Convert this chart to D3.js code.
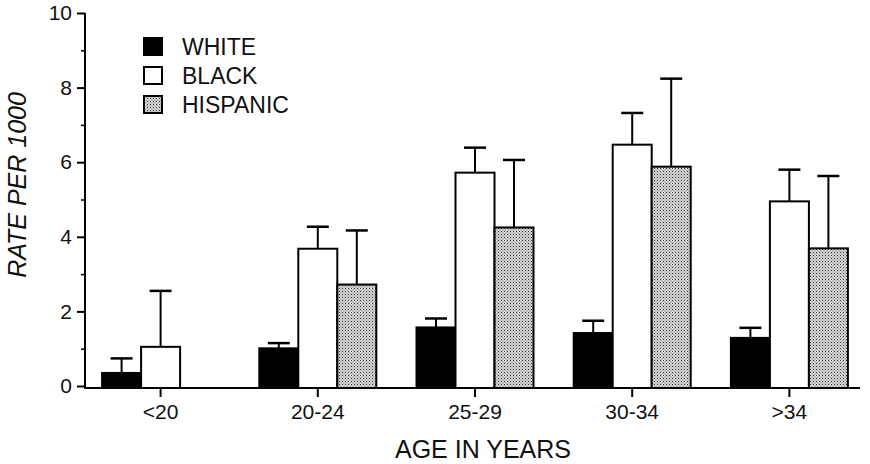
<!DOCTYPE html>
<html>
<head>
  <script src="https://d3js.org/d3.v7.min.js"></script>
  <style>
    body { margin: 0; background: #fff; font-family: "Liberation Sans", Arial, sans-serif; }
    text { fill: #111; }
  </style>
</head>
<body>
<div id="chart"></div>
<script>
  // data
  var ageGroups = ["<20", "20-24", "25-29", "30-34", ">34"];
  var seriesNames = ["WHITE", "BLACK", "HISPANIC"];
  var whiteRate = [0.35, 1.01, 1.57, 1.42, 1.29];
  var whiteUpper = [0.74, 1.15, 1.81, 1.75, 1.56];
  var blackRate = [1.05, 3.68, 5.72, 6.47, 4.95];
  var blackUpper = [2.55, 4.27, 6.39, 7.32, 5.80];
  var hispRate = [null, 2.72, 4.25, 5.88, 3.69];
  var hispUpper = [null, 4.17, 6.06, 8.24, 5.63];
  var yTicks = [0, 2, 4, 6, 8, 10];

  var width = 870, height = 464;
  var svg = d3.select("#chart").append("svg")
    .attr("width", width).attr("height", height);

  // stipple for hispanic
  var pat = svg.append("defs").append("pattern")
    .attr("id", "dots").attr("patternUnits", "userSpaceOnUse")
    .attr("width", 3).attr("height", 3);
  pat.append("rect").attr("width", 3).attr("height", 3).attr("fill", "#d6d6d6");
  pat.append("rect").attr("x", 0).attr("y", 0).attr("width", 1).attr("height", 1).attr("fill", "#333");
  pat.append("rect").attr("x", 1.5).attr("y", 1.5).attr("width", 1).attr("height", 1).attr("fill", "#777");

  var fills = ["#000", "#fff", "url(#dots)"];

  var y = d3.scaleLinear().domain([0, 10]).range([386, 13]);
  var x0 = d3.scaleBand().domain(ageGroups).range([82, 868]).padding(0);
  var x1 = d3.scaleBand().domain(seriesNames).range([0, 117]);
  var groupOffset = (x0.bandwidth() - 117) / 2;

  // y axis
  svg.append("g")
    .attr("transform", "translate(85,0)")
    .call(d3.axisLeft(y).tickValues(yTicks).tickSize(8).tickPadding(5).tickFormat(d3.format("d")))
    .call(function(g) {
      g.select(".domain").attr("stroke-width", 2).attr("d", "M0," + y(10) + "V" + (y(0) + 3));
      g.selectAll(".tick line").attr("stroke-width", 2);
      g.selectAll("text").attr("font-size", 21).attr("font-family", "Liberation Sans, Arial, sans-serif").attr("fill", "#111");
    });
  svg.append("g")
    .attr("transform", "translate(85,0)")
    .call(d3.axisLeft(y).tickValues([1, 3, 5, 7, 9]).tickSize(4).tickFormat(""))
    .call(function(g) {
      g.select(".domain").remove();
      g.selectAll(".tick line").attr("stroke-width", 1.5);
    });

  // x axis
  svg.append("g")
    .attr("transform", "translate(0," + (y(0) + 2) + ")")
    .call(d3.axisBottom(x0).tickSize(9).tickPadding(7))
    .call(function(g) {
      g.select(".domain").attr("stroke-width", 2).attr("d", "M85,0H860");
      g.selectAll(".tick line").attr("stroke-width", 2);
      g.selectAll("text").attr("font-size", 21).attr("font-family", "Liberation Sans, Arial, sans-serif").attr("fill", "#111");
    });

  var rates = [whiteRate, blackRate, hispRate];
  var uppers = [whiteUpper, blackUpper, hispUpper];

  seriesNames.forEach(function(s, si) {
    ageGroups.forEach(function(a, ai) {
      var v = rates[si][ai];
      if (v == null) return;
      var bx = x0(a) + groupOffset + x1(s);
      var bw = x1.bandwidth();
      var cx = bx + bw / 2;
      // error bar (upper only)
      svg.append("line")
        .attr("x1", cx).attr("x2", cx)
        .attr("y1", y(v)).attr("y2", y(uppers[si][ai]))
        .attr("stroke", "#000").attr("stroke-width", 2);
      svg.append("line")
        .attr("x1", cx - 11).attr("x2", cx + 11)
        .attr("y1", y(uppers[si][ai])).attr("y2", y(uppers[si][ai]))
        .attr("stroke", "#000").attr("stroke-width", 2.5);
      svg.append("rect")
        .attr("x", bx).attr("y", y(v))
        .attr("width", bw).attr("height", y(0) + 2 - y(v))
        .attr("fill", fills[si]).attr("stroke", "#000").attr("stroke-width", 2);
    });
  });

  // legend
  var legend = svg.append("g").attr("transform", "translate(144,38)");
  seriesNames.forEach(function(s, i) {
    legend.append("rect")
      .attr("x", 0).attr("y", i * 29).attr("width", 18).attr("height", 17)
      .attr("fill", fills[i]).attr("stroke", "#000").attr("stroke-width", 2);
    legend.append("text")
      .attr("x", 38).attr("y", i * 29 + 17)
      .attr("font-size", 23).text(s);
  });

  // axis titles
  svg.append("text")
    .attr("transform", "translate(26,185) rotate(-90)")
    .attr("text-anchor", "middle").attr("font-size", 25).attr("font-style", "italic")
    .text("RATE PER 1000");
  svg.append("text")
    .attr("x", 483).attr("y", 458)
    .attr("text-anchor", "middle").attr("font-size", 25)
    .text("AGE IN YEARS");
</script>
</body>
</html>
